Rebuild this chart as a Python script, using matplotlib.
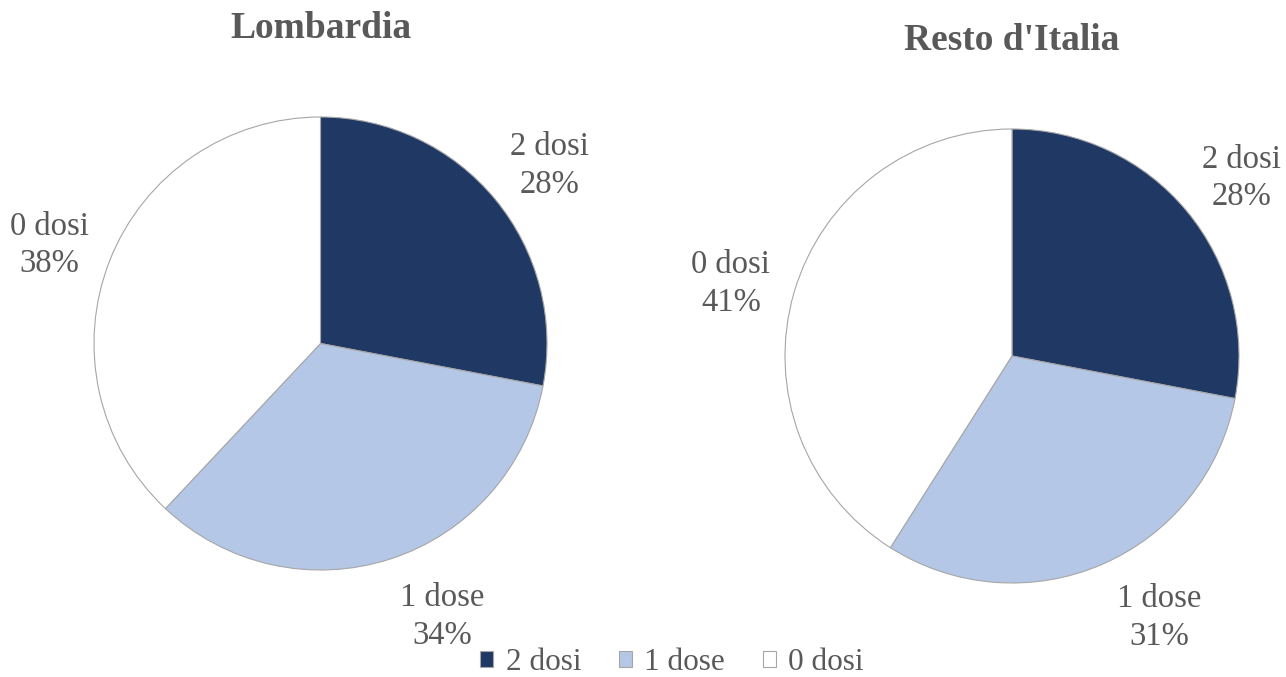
import matplotlib
matplotlib.use("Agg")
import matplotlib.pyplot as plt
from matplotlib.patches import Patch
import numpy as np

# data
categories = ["2 dosi", "1 dose", "0 dosi"]
lombardia = [28, 34, 38]
resto = [28, 31, 41]
titles = ["Lombardia", "Resto d'Italia"]
colours = ["#1F3864", "#B4C7E7", "#FFFFFF"]
TEXT_GREY = "#595959"

plt.rcParams["font.family"] = ["Liberation Serif", "DejaVu Serif"]

fig = plt.figure(figsize=(12.86, 6.77), dpi=100)

# axes boxes in pixel terms (left, top, size)
boxes = [(94, 117, 453), (785, 129, 454)]
W, H = 1286, 677


def draw_pie(box, values, title, title_y):
    x0, y0, s = box
    ax = fig.add_axes([x0 / W, 1 - (y0 + s) / H, s / W, s / H])
    wedges, _ = ax.pie(values, colors=colours, startangle=90,
                       counterclock=False, radius=1,
                       wedgeprops=dict(edgecolor="#A6A6A6", linewidth=0.8))
    ax.set_xlim(-1, 1)
    ax.set_ylim(-1, 1)
    ax.set_aspect("equal")
    ax.axis("off")
    # data labels
    total = sum(values)
    cum = 0
    for cat, v in zip(categories, values):
        mid = 90 - (cum + v / 2) / total * 360
        cum += v
        dy = -0.045
        if cat == "1 dose":
            mid += 6
            dy = -0.02
        a = np.deg2rad(mid)
        ax.text(1.3 * np.cos(a) + 0.01, 1.3 * np.sin(a) + dy,
                "%s\n%d%%" % (cat, v), ha="center", va="center",
                fontsize=23.5, color=TEXT_GREY, linespacing=1.3,
                clip_on=False)
    fig.text((x0 + s / 2) / W, 1 - title_y / H, title, ha="center",
             va="center", fontsize=27, fontweight="bold", color=TEXT_GREY)


draw_pie(boxes[0], lombardia, titles[0], 29)
draw_pie(boxes[1], resto, titles[1], 41)

handles = [Patch(facecolor=c, edgecolor="#A6A6A6", linewidth=0.8, label=l)
           for c, l in zip(colours, categories)]
leg = fig.legend(handles=handles, loc="center",
                 bbox_to_anchor=(672 / W, 1 - 663 / H),
                 ncol=3, frameon=False, fontsize=22.5, handlelength=0.42,
                 handleheight=0.42, handletextpad=0.4, columnspacing=1.2)
for t in leg.get_texts():
    t.set_color(TEXT_GREY)

fig.savefig("out.png", dpi=100, facecolor="white")
